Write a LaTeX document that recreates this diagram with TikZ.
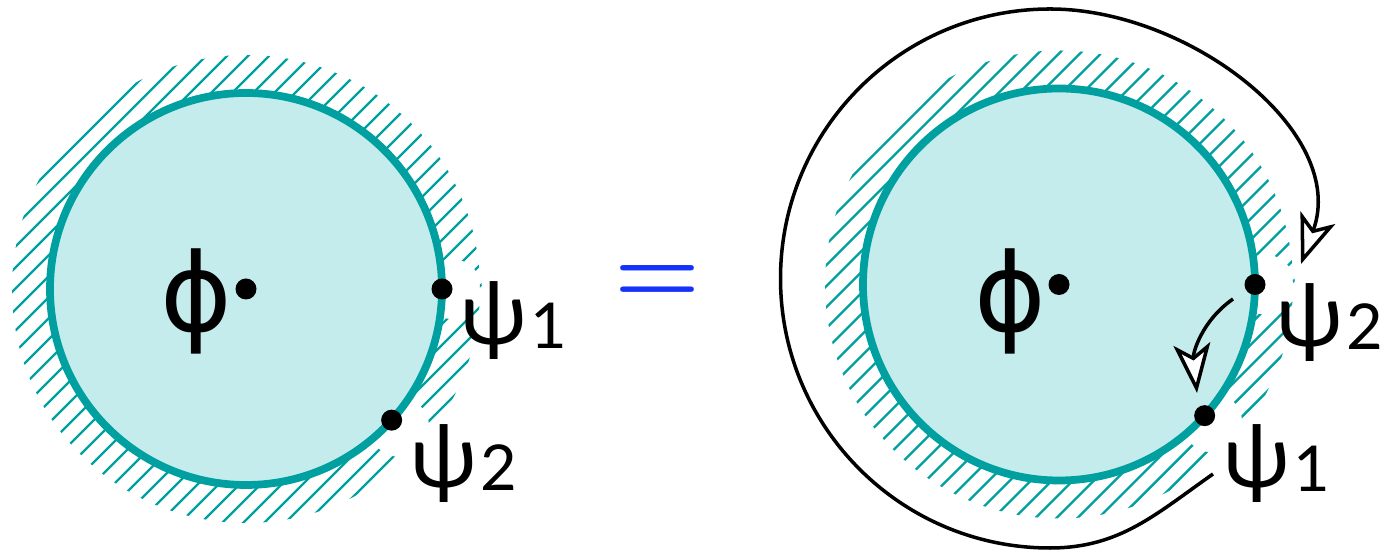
\documentclass[tikz,border=0pt]{standalone}
\usepackage{fontspec}
\newfontfamily\greekfont{Lato}
\newfontfamily\phifont{DejaVu Sans}
\usetikzlibrary{arrows.meta,positioning}

\definecolor{tealrim}{RGB}{0,160,160}
\definecolor{tealfill}{RGB}{196,236,236}
\definecolor{eqblue}{RGB}{20,50,250}

\newcommand{\psilabel}[1]{ψ\kern2pt\raisebox{-2pt}{\fontsize{36}{36}\selectfont #1}}

\begin{document}
\begin{tikzpicture}[
    x=0.02cm, y=0.02cm,
    disc/.style={draw=tealrim, fill=tealfill, line width=4.4pt},
    hatch/.style={tealrim, line width=1.4pt},
    dot/.style={circle, fill=black, inner sep=0pt, minimum size=4.2mm},
    glyph/.style={inner sep=0pt, font=\greekfont\fontsize{50}{50}\selectfont},
    bigglyph/.style={inner sep=0pt, font=\phifont\fontsize{62}{62}\selectfont},
    arr/.style={line width=2pt,
                -{Stealth[open, fill=white, length=28pt, width=21pt, inset=7pt]}},
]
\useasboundingbox (0,0) rectangle (1389,550);

%% Linker Kreis
\begin{scope}[shift={(246,261)}]
  \begin{scope}[even odd rule]
    \clip (0,0) circle (234) (206,0) circle (30) (-42:206) circle (30);
    \foreach \k in {-16,...,16}
      \draw[hatch] (\k*21-260,-260) -- ++(520,520);
  \end{scope}
  \draw[disc] (0,0) circle (196);
  \node[dot] (lc) at (0,0) {};
  \node[dot] (lp1) at (0:196) {};
  \node[dot] (lp2) at (-42:196) {};
  \node[bigglyph] (lphi) at (-50,-12) {ϕ};
  \node[glyph, anchor=west] (lpsi1) at ([shift={(18,-32)}]lp1) {\psilabel{1}};
  \node[glyph, anchor=west] (lpsi2) at ([shift={(18,-43)}]lp2) {\psilabel{2}};
\end{scope}

%% Gleichheitszeichen
\node[inner sep=0pt, text=eqblue, font=\bfseries\fontsize{56}{56}\selectfont] (eq) at (657.5,265.5) {=};

%% Rechter Kreis
\begin{scope}[shift={(1059,265.5)}]
  \begin{scope}[even odd rule]
    \clip (0,0) circle (234) (206,0) circle (30) (-42:206) circle (30);
    \foreach \k in {-16,...,16}
      \draw[hatch] (\k*21-260,-260) -- ++(520,520);
  \end{scope}
  \draw[disc] (0,0) circle (196);
  \node[dot] (rc) at (0,0) {};
  \node[dot] (rp2) at (0:196) {};
  \node[dot] (rp1) at (-42:196) {};
  \node[bigglyph] (rphi) at (-49,-16.5) {ϕ};
  \node[glyph, anchor=west] (rpsi2) at ([shift={(21,-38)}]rp2) {\psilabel{2}};
  \node[glyph, anchor=west] (rpsi1) at ([shift={(18,-48)}]rp1) {\psilabel{1}};

  % Pfeile
  \coordinate (arcstart) at (154,-189.5);
  \coordinate (arctip)   at (242,20.5);
  \coordinate (sstart)   at (174,-14.5);
  \coordinate (stip)     at (138,-108.5);
  \draw[arr] (arcstart) to[out=-145, in=0] ++(-163,-74)
             arc[start angle=-90, end angle=-270, radius=269.5]
             to[out=0, in=70] (arctip);
  \draw[arr] (sstart) to[out=215, in=96] (stip);
\end{scope}
\end{tikzpicture}
\end{document}
